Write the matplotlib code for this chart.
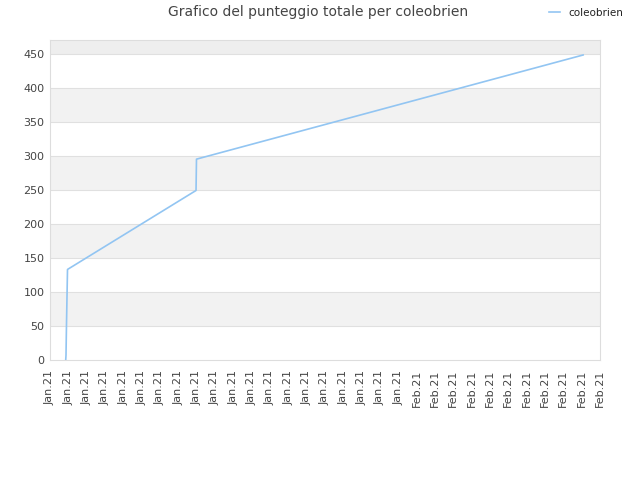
import matplotlib
matplotlib.use("Agg")
import matplotlib.pyplot as plt
import matplotlib.dates as mdates
import pandas as pd

# data
times = ["2021-01-12 20:34", "2021-01-12 20:57", "2021-01-12 21:36", "2021-01-12 22:55",
         "2021-01-19 23:10", "2021-01-19 23:46", "2021-02-10 01:55"]
scores = [0, 7, 53, 133, 249, 295, 448]
series_name = "coleobrien"
title = "Grafico del punteggio totale per coleobrien"
x_start = "2021-01-12"
x_end = "2021-02-11"
y_ticks = [0, 50, 100, 150, 200, 250, 300, 350, 400, 450]

dates = pd.to_datetime(times)

fig = plt.figure(figsize=(6.4, 4.8), dpi=100)
ax = fig.add_axes([50/640, 1-360/480, 550/640, 320/480])

ymax = 470
# alternating bands
for i, lo in enumerate(y_ticks):
    hi = lo + 50 if lo + 50 <= 450 else ymax
    if lo == 450:
        ax.axhspan(lo, ymax, color="#eeeeee", zorder=0, lw=0)
    elif i % 2 == 1:
        ax.axhspan(lo, hi, color="#f2f2f2", zorder=0, lw=0)
for y in y_ticks[1:]:
    ax.axhline(y, color="#e0e0e0", lw=0.8, zorder=1)

ax.plot(dates, scores, color="#92c5f2", lw=1.2, zorder=3, label=series_name)

ax.set_ylim(0, ymax)
ax.set_xlim(pd.Timestamp(x_start), pd.Timestamp(x_end))
ax.set_yticks(y_ticks)
ax.xaxis.set_major_locator(mdates.DayLocator())
ax.xaxis.set_major_formatter(mdates.DateFormatter("%b.%y"))
for lbl in ax.get_xticklabels():
    lbl.set_rotation(90)
ax.tick_params(axis="both", length=0, labelsize=8, colors="#444444", pad=4)
ax.tick_params(axis="x", pad=7)
for s in ax.spines.values():
    s.set_color("#dddddd")
    s.set_linewidth(0.8)

fig.suptitle(title, x=318/640, y=1-12/480, fontsize=10, color="#444444", va="center")
leg = fig.legend(loc="center left", bbox_to_anchor=(540/640, 1-13/480), frameon=False,
                 fontsize=7.5, handlelength=1.0, handletextpad=0.8)
for t in leg.get_texts():
    t.set_color("#222222")

fig.savefig("out.png", dpi=100)
